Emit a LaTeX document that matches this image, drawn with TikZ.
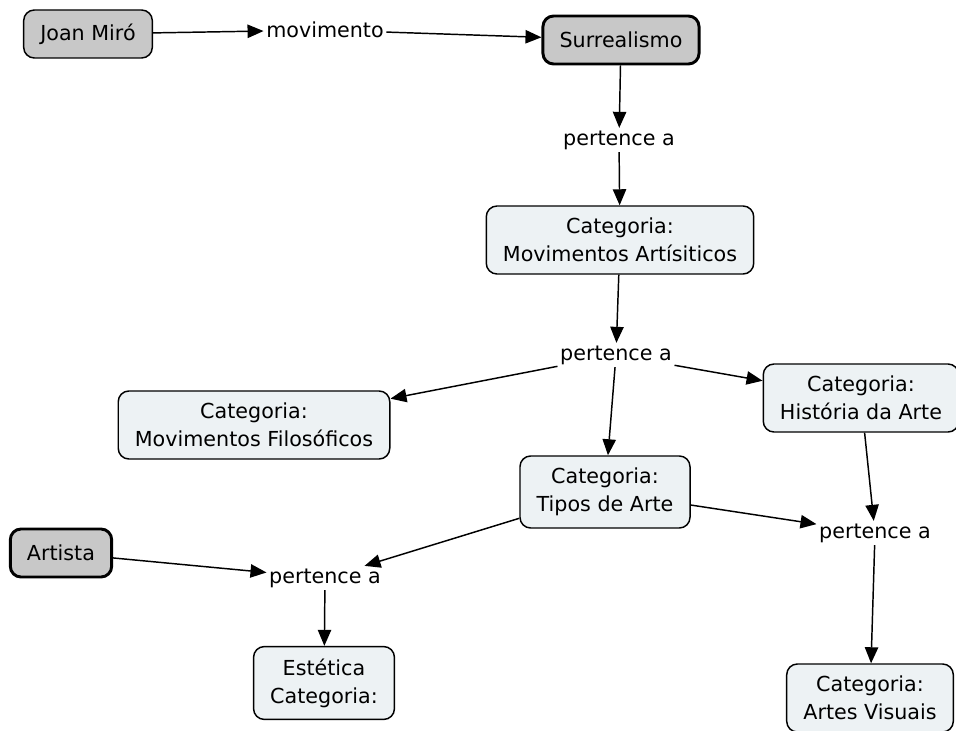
\documentclass[tikz,border=0pt]{standalone}
\usepackage{fontspec}
\setmainfont{DejaVu Sans}
\usetikzlibrary{arrows.meta}

\definecolor{conceptfill}{HTML}{EDF2F4}
\definecolor{rootfill}{HTML}{C8C8C8}

\begin{document}
\begin{tikzpicture}[x=0.75pt, y=-0.75pt,
  every node/.style={font=\fontsize{15.5}{21}\selectfont, align=center},
  concept/.style={draw, rounded corners=8pt, fill=conceptfill, line width=1.1pt,
    inner xsep=12.5pt, inner ysep=9pt, minimum height=36pt},
  root/.style={concept, fill=rootfill},
  heavy/.style={root, line width=2.2pt},
  link/.style={inner sep=1.5pt},
  every path/.style={line width=1.1pt},
  tip/.style={-{Triangle[length=12pt, width=10pt]}}]
\useasboundingbox (0,0) rectangle (956,731);

\node[root] (miro) at (88,34){Joan Miró};
\node[link] (mov) at (325,30){movimento};
\node[heavy] (surr) at (621,40){Surrealismo};
\draw[tip](miro) -- (mov);
\draw[tip](mov) -- (surr);

\node[link] (per0) at (619,140){pertence a};
\node[concept] (artis) at (620,240){Categoria:\\Movimentos Artísiticos};
\draw[tip](surr) -- (per0);
\draw[tip](per0) -- (artis);

\node[link] (per1) at (616,355){pertence a};
\draw[tip](artis) -- (per1);
\node[concept] (filos) at (254,425){Categoria:\\Movimentos Filosóficos};
\node[concept] (hist) at (861,398){Categoria:\\História da Arte};
\node[concept] (tipos) at (605,492){Categoria:\\Tipos de Arte};
\draw[tip](per1) -- (filos);
\draw[tip](per1) -- (hist);
\draw[tip](per1) -- (tipos);

\node[link] (per2) at (875,533){pertence a};
\node[concept] (visu) at (870,698){Categoria:\\Artes Visuais};
\draw[tip](tipos) -- (per2);
\draw[tip](hist) -- (per2);
\draw[tip](per2) -- (visu);

\node[heavy] (artista) at (61,553){Artista};
\node[link] (per3) at (325,578){pertence a};
\node[concept] (estet) at (324,683){Estética\\Categoria:};
\draw[tip](artista) -- (per3);
\draw[tip](tipos) -- (per3);
\draw[tip](per3) -- (estet);

\end{tikzpicture}
\end{document}
